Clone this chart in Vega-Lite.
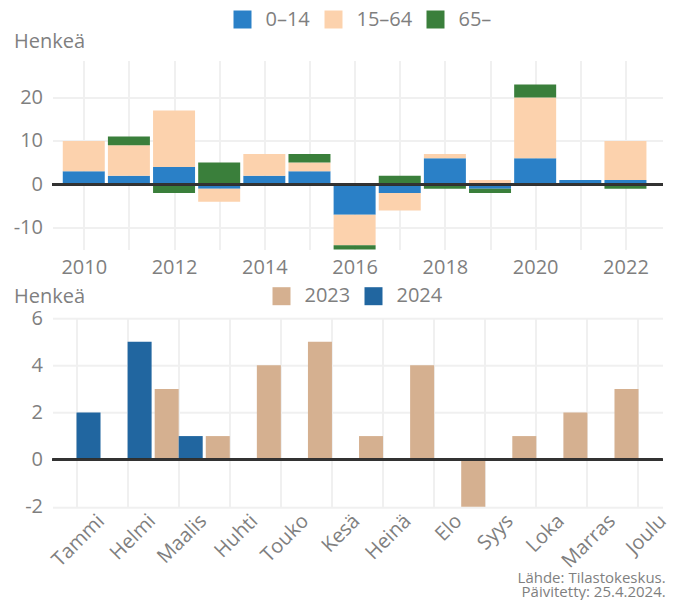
{
  "$schema": "https://vega.github.io/schema/vega-lite/v6.json",
  "background": "white",
  "padding": {"left": 12.5, "top": 9.5, "right": 0, "bottom": 0},
  "bounds": "flush",
  "spacing": 68.7,
  "config": {
    "font": "Open Sans",
    "view": {"stroke": null},
    "axis": {
      "labelFont": "Open Sans",
      "titleFont": "Open Sans",
      "labelColor": "#7f7f7f",
      "titleColor": "#7f7f7f",
      "labelFontSize": 20,
      "titleFontSize": 20,
      "titleFontWeight": "normal",
      "gridColor": "#f0f0f0",
      "gridWidth": 2,
      "domain": false,
      "ticks": false,
      "tickSize": 0,
      "labelOverlap": false,
      "labelFlush": false
    },
    "legend": {
      "labelFont": "Open Sans",
      "labelFontSize": 20,
      "labelColor": "#7f7f7f",
      "symbolType": "square",
      "symbolSize": 324,
      "symbolStrokeWidth": 0,
      "labelOffset": 13,
      "columnPadding": 13,
      "padding": 0
    }
  },
  "resolve": {
    "scale": {"x": "independent", "y": "independent", "color": "independent"},
    "legend": {"color": "independent"}
  },
  "vconcat": [
    {
      "width": 610,
      "height": 189,
      "data": {
        "values": [
          {"vuosi": 2010, "ika": "0–14", "muutos": 3},
          {"vuosi": 2010, "ika": "15–64", "muutos": 7},
          {"vuosi": 2010, "ika": "65–", "muutos": 0},
          {"vuosi": 2011, "ika": "0–14", "muutos": 2},
          {"vuosi": 2011, "ika": "15–64", "muutos": 7},
          {"vuosi": 2011, "ika": "65–", "muutos": 2},
          {"vuosi": 2012, "ika": "0–14", "muutos": 4},
          {"vuosi": 2012, "ika": "15–64", "muutos": 13},
          {"vuosi": 2012, "ika": "65–", "muutos": -2},
          {"vuosi": 2013, "ika": "0–14", "muutos": -1},
          {"vuosi": 2013, "ika": "15–64", "muutos": -3},
          {"vuosi": 2013, "ika": "65–", "muutos": 5},
          {"vuosi": 2014, "ika": "0–14", "muutos": 2},
          {"vuosi": 2014, "ika": "15–64", "muutos": 5},
          {"vuosi": 2014, "ika": "65–", "muutos": 0},
          {"vuosi": 2015, "ika": "0–14", "muutos": 3},
          {"vuosi": 2015, "ika": "15–64", "muutos": 2},
          {"vuosi": 2015, "ika": "65–", "muutos": 2},
          {"vuosi": 2016, "ika": "0–14", "muutos": -7},
          {"vuosi": 2016, "ika": "15–64", "muutos": -7},
          {"vuosi": 2016, "ika": "65–", "muutos": -1},
          {"vuosi": 2017, "ika": "0–14", "muutos": -2},
          {"vuosi": 2017, "ika": "15–64", "muutos": -4},
          {"vuosi": 2017, "ika": "65–", "muutos": 2},
          {"vuosi": 2018, "ika": "0–14", "muutos": 6},
          {"vuosi": 2018, "ika": "15–64", "muutos": 1},
          {"vuosi": 2018, "ika": "65–", "muutos": -1},
          {"vuosi": 2019, "ika": "0–14", "muutos": -1},
          {"vuosi": 2019, "ika": "15–64", "muutos": 1},
          {"vuosi": 2019, "ika": "65–", "muutos": -1},
          {"vuosi": 2020, "ika": "0–14", "muutos": 6},
          {"vuosi": 2020, "ika": "15–64", "muutos": 14},
          {"vuosi": 2020, "ika": "65–", "muutos": 3},
          {"vuosi": 2021, "ika": "0–14", "muutos": 1},
          {"vuosi": 2021, "ika": "15–64", "muutos": 0},
          {"vuosi": 2021, "ika": "65–", "muutos": 0},
          {"vuosi": 2022, "ika": "0–14", "muutos": 1},
          {"vuosi": 2022, "ika": "15–64", "muutos": 9},
          {"vuosi": 2022, "ika": "65–", "muutos": -1}
        ]
      },
      "layer": [
        {
          "mark": {"type": "bar", "width": 42},
          "encoding": {
            "x": {
              "field": "vuosi",
              "type": "quantitative",
              "scale": {"domain": [2009.418, 2022.71], "nice": false, "zero": false},
              "axis": {
                "title": null,
                "values": [2010, 2011, 2012, 2013, 2014, 2015, 2016, 2017, 2018, 2019, 2020, 2021, 2022],
                "labelExpr": "datum.value % 2 == 0 ? '' + datum.value : ''",
                "labelPadding": 8,
                "grid": true
              }
            },
            "y": {
              "field": "muutos",
              "type": "quantitative",
              "stack": "zero",
              "scale": {"domain": [-15, 28.5], "nice": false},
              "axis": {
                "values": [-10, 0, 10, 20],
                "labelExpr": "'' + datum.value",
                "labelPadding": 10,
                "grid": true,
                "title": "Henkeä",
                "titleAngle": 0,
                "titleAlign": "left",
                "titleBaseline": "alphabetic",
                "titleX": -39,
                "titleY": -13.3
              }
            },
            "order": {"field": "ika", "type": "ordinal", "sort": "ascending"},
            "color": {
              "field": "ika",
              "type": "nominal",
              "scale": {"domain": ["0–14", "15–64", "65–"], "range": ["#2a80c7", "#fcd2ad", "#3a7f3b"]},
              "legend": {
                "title": null,
                "orient": "none",
                "direction": "horizontal",
                "legendX": 180,
                "legendY": -51
              }
            }
          }
        },
        {
          "mark": {"type": "rule", "color": "#333333", "strokeWidth": 2},
          "encoding": {"y": {"datum": 0}}
        }
      ]
    },
    {
      "width": 610,
      "height": 188.6,
      "data": {
        "values": [
          {"kuukausi": "Tammi", "vuosi": "2023", "muutos": 0},
          {"kuukausi": "Helmi", "vuosi": "2023", "muutos": 0},
          {"kuukausi": "Maalis", "vuosi": "2023", "muutos": 3},
          {"kuukausi": "Huhti", "vuosi": "2023", "muutos": 1},
          {"kuukausi": "Touko", "vuosi": "2023", "muutos": 4},
          {"kuukausi": "Kesä", "vuosi": "2023", "muutos": 5},
          {"kuukausi": "Heinä", "vuosi": "2023", "muutos": 1},
          {"kuukausi": "Elo", "vuosi": "2023", "muutos": 4},
          {"kuukausi": "Syys", "vuosi": "2023", "muutos": -2},
          {"kuukausi": "Loka", "vuosi": "2023", "muutos": 1},
          {"kuukausi": "Marras", "vuosi": "2023", "muutos": 2},
          {"kuukausi": "Joulu", "vuosi": "2023", "muutos": 3},
          {"kuukausi": "Tammi", "vuosi": "2024", "muutos": 2},
          {"kuukausi": "Helmi", "vuosi": "2024", "muutos": 5},
          {"kuukausi": "Maalis", "vuosi": "2024", "muutos": 1}
        ]
      },
      "layer": [
        {
          "mark": {"type": "bar"},
          "encoding": {
            "x": {
              "field": "kuukausi",
              "type": "nominal",
              "sort": ["Tammi", "Helmi", "Maalis", "Huhti", "Touko", "Kesä", "Heinä", "Elo", "Syys", "Loka", "Marras", "Joulu"],
              "scale": {"paddingInner": 0.06, "paddingOuter": 0},
              "axis": {
                "title": ["Lähde: Tilastokeskus.", "Päivitetty: 25.4.2024."],
                "titleFontSize": 15,
                "titleLineHeight": 13.6,
                "titleAlign": "right",
                "titleBaseline": "alphabetic",
                "titleAngle": 0,
                "titleX": 612.7,
                "titleY": 75.9,
                "grid": true,
                "bandPosition": 0.5,
                "labelAngle": -45,
                "labelAlign": "right",
                "labelBaseline": "alphabetic",
                "labelPadding": 15,
                "labelOffset": 29
              }
            },
            "xOffset": {
              "field": "vuosi",
              "type": "nominal",
              "scale": {"domain": ["2023", "2024"]}
            },
            "y": {
              "field": "muutos",
              "type": "quantitative",
              "scale": {"domain": [-2, 6], "nice": false},
              "axis": {
                "values": [-2, 0, 2, 4, 6],
                "labelExpr": "'' + datum.value",
                "labelPadding": 10,
                "grid": true,
                "title": "Henkeä",
                "titleAngle": 0,
                "titleAlign": "left",
                "titleBaseline": "alphabetic",
                "titleX": -39,
                "titleY": -15.4
              }
            },
            "color": {
              "field": "vuosi",
              "type": "nominal",
              "scale": {"domain": ["2023", "2024"], "range": ["#d5b090", "#2166a0"]},
              "legend": {
                "title": null,
                "orient": "none",
                "direction": "horizontal",
                "legendX": 219,
                "legendY": -32
              }
            }
          }
        },
        {
          "mark": {"type": "rule", "color": "#333333", "strokeWidth": 2},
          "encoding": {"y": {"datum": 0}}
        }
      ]
    }
  ]
}
